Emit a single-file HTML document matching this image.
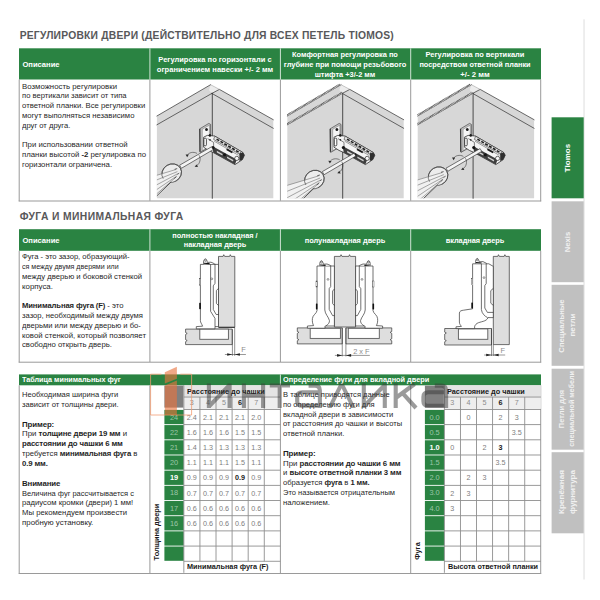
<!DOCTYPE html>
<html><head><meta charset="utf-8"><title>Tiomos</title>
<style>
html,body{margin:0;padding:0;background:#fff;}
body{width:600px;height:600px;position:relative;overflow:hidden;font-family:"Liberation Sans",sans-serif;}
.t{position:absolute;white-space:nowrap;margin:0;padding:0;}
.r{position:absolute;}
b{font-weight:700;letter-spacing:-0.13px;}
svg{position:absolute;left:0;top:0;}
</style></head><body>
<svg width="600" height="600" viewBox="0 0 600 600">
<rect x="583.30" y="19.30" width="1.50" height="560.20" fill="#e9e9e9"/>
<rect x="551.60" y="117.30" width="32.10" height="81.00" fill="#2a8342"/>
<rect x="551.60" y="201.30" width="32.10" height="80.90" fill="#c0c0c0"/>
<rect x="551.60" y="284.80" width="32.10" height="81.00" fill="#c0c0c0"/>
<rect x="551.60" y="368.70" width="32.10" height="81.00" fill="#c0c0c0"/>
<rect x="551.60" y="452.20" width="32.10" height="81.10" fill="#c0c0c0"/>
<rect x="19.00" y="48.30" width="522.00" height="31.20" fill="#2a8342"/>
<rect x="18.70" y="79.50" width="1.00" height="121.80" fill="#9a9a9a"/>
<rect x="540.20" y="79.50" width="1.00" height="121.80" fill="#9a9a9a"/>
<rect x="18.70" y="200.50" width="522.50" height="1.00" fill="#9a9a9a"/>
<rect x="149.40" y="79.50" width="1.00" height="121.30" fill="#9a9a9a"/>
<rect x="149.40" y="48.30" width="1.00" height="31.20" fill="#cfe3d4"/>
<rect x="279.90" y="79.50" width="1.00" height="121.30" fill="#9a9a9a"/>
<rect x="279.90" y="48.30" width="1.00" height="31.20" fill="#cfe3d4"/>
<rect x="410.20" y="79.50" width="1.00" height="121.30" fill="#9a9a9a"/>
<rect x="410.20" y="48.30" width="1.00" height="31.20" fill="#cfe3d4"/>
<rect x="19.00" y="229.20" width="522.00" height="21.60" fill="#2a8342"/>
<rect x="18.70" y="250.80" width="1.00" height="111.70" fill="#9a9a9a"/>
<rect x="540.20" y="250.80" width="1.00" height="111.70" fill="#9a9a9a"/>
<rect x="18.70" y="361.70" width="522.50" height="1.00" fill="#9a9a9a"/>
<rect x="149.40" y="250.80" width="1.00" height="111.20" fill="#9a9a9a"/>
<rect x="149.40" y="229.20" width="1.00" height="21.60" fill="#cfe3d4"/>
<rect x="279.90" y="250.80" width="1.00" height="111.20" fill="#9a9a9a"/>
<rect x="279.90" y="229.20" width="1.00" height="21.60" fill="#cfe3d4"/>
<rect x="410.20" y="250.80" width="1.00" height="111.20" fill="#9a9a9a"/>
<rect x="410.20" y="229.20" width="1.00" height="21.60" fill="#cfe3d4"/>
<rect x="19.00" y="374.40" width="522.00" height="10.90" fill="#2a8342"/>
<rect x="279.90" y="374.40" width="1.00" height="10.90" fill="#cfe3d4"/>
<rect x="18.70" y="385.30" width="1.00" height="188.50" fill="#9a9a9a"/>
<rect x="540.20" y="385.30" width="1.00" height="188.50" fill="#9a9a9a"/>
<rect x="18.70" y="573.00" width="522.50" height="1.00" fill="#9a9a9a"/>
<rect x="149.40" y="385.30" width="1.00" height="188.00" fill="#9a9a9a"/>
<rect x="279.90" y="385.30" width="1.00" height="188.00" fill="#9a9a9a"/>
<rect x="410.20" y="385.30" width="1.00" height="188.00" fill="#9a9a9a"/>
<rect x="183.80" y="385.30" width="96.60" height="11.70" fill="#e4e4e4"/>
<rect x="183.80" y="397.00" width="96.60" height="11.90" fill="#eeeeee"/>
<rect x="164.40" y="385.60" width="19.00" height="22.00" fill="#808080"/>
<rect x="164.40" y="409.90" width="19.40" height="14.28" fill="#2a8342"/>
<rect x="164.40" y="425.08" width="19.40" height="14.28" fill="#2a8342"/>
<rect x="164.40" y="440.26" width="19.40" height="14.28" fill="#2a8342"/>
<rect x="164.40" y="455.44" width="19.40" height="14.28" fill="#2a8342"/>
<rect x="164.40" y="470.62" width="19.40" height="14.28" fill="#2a8342"/>
<rect x="164.40" y="485.80" width="19.40" height="14.28" fill="#2a8342"/>
<rect x="164.40" y="500.98" width="19.40" height="14.28" fill="#2a8342"/>
<rect x="164.40" y="516.16" width="19.40" height="14.28" fill="#2a8342"/>
<rect x="164.40" y="531.34" width="19.40" height="14.28" fill="#2a8342"/>
<rect x="164.40" y="546.52" width="19.40" height="14.28" fill="#2a8342"/>
<rect x="183.80" y="396.60" width="96.60" height="0.90" fill="#8f8f8f"/>
<rect x="183.80" y="409.00" width="96.60" height="0.90" fill="#8f8f8f"/>
<rect x="183.80" y="424.18" width="96.60" height="0.90" fill="#8f8f8f"/>
<rect x="183.80" y="439.36" width="96.60" height="0.90" fill="#8f8f8f"/>
<rect x="183.80" y="454.54" width="96.60" height="0.90" fill="#8f8f8f"/>
<rect x="183.80" y="469.72" width="96.60" height="0.90" fill="#8f8f8f"/>
<rect x="183.80" y="484.90" width="96.60" height="0.90" fill="#8f8f8f"/>
<rect x="183.80" y="500.08" width="96.60" height="0.90" fill="#8f8f8f"/>
<rect x="183.80" y="515.26" width="96.60" height="0.90" fill="#8f8f8f"/>
<rect x="183.80" y="530.44" width="96.60" height="0.90" fill="#8f8f8f"/>
<rect x="183.80" y="545.62" width="96.60" height="0.90" fill="#8f8f8f"/>
<rect x="183.80" y="560.80" width="96.60" height="0.90" fill="#8f8f8f"/>
<rect x="183.40" y="385.30" width="0.90" height="187.50" fill="#8f8f8f"/>
<rect x="199.48" y="397.00" width="0.90" height="164.30" fill="#8f8f8f"/>
<rect x="215.56" y="397.00" width="0.90" height="164.30" fill="#8f8f8f"/>
<rect x="231.64" y="397.00" width="0.90" height="164.30" fill="#8f8f8f"/>
<rect x="247.72" y="397.00" width="0.90" height="164.30" fill="#8f8f8f"/>
<rect x="263.80" y="397.00" width="0.90" height="164.30" fill="#8f8f8f"/>
<rect x="444.30" y="385.30" width="96.60" height="11.70" fill="#e4e4e4"/>
<rect x="444.30" y="397.00" width="96.60" height="11.90" fill="#eeeeee"/>
<rect x="424.90" y="385.60" width="19.00" height="22.00" fill="#808080"/>
<rect x="424.90" y="409.90" width="19.40" height="14.28" fill="#2a8342"/>
<rect x="424.90" y="425.08" width="19.40" height="14.28" fill="#2a8342"/>
<rect x="424.90" y="440.26" width="19.40" height="14.28" fill="#2a8342"/>
<rect x="424.90" y="455.44" width="19.40" height="14.28" fill="#2a8342"/>
<rect x="424.90" y="470.62" width="19.40" height="14.28" fill="#2a8342"/>
<rect x="424.90" y="485.80" width="19.40" height="14.28" fill="#2a8342"/>
<rect x="424.90" y="500.98" width="19.40" height="14.28" fill="#2a8342"/>
<rect x="424.90" y="516.16" width="19.40" height="14.28" fill="#2a8342"/>
<rect x="424.90" y="531.34" width="19.40" height="14.28" fill="#2a8342"/>
<rect x="424.90" y="546.52" width="19.40" height="14.28" fill="#2a8342"/>
<rect x="444.30" y="396.60" width="96.60" height="0.90" fill="#8f8f8f"/>
<rect x="444.30" y="409.00" width="96.60" height="0.90" fill="#8f8f8f"/>
<rect x="444.30" y="424.18" width="96.60" height="0.90" fill="#8f8f8f"/>
<rect x="444.30" y="439.36" width="96.60" height="0.90" fill="#8f8f8f"/>
<rect x="444.30" y="454.54" width="96.60" height="0.90" fill="#8f8f8f"/>
<rect x="444.30" y="469.72" width="96.60" height="0.90" fill="#8f8f8f"/>
<rect x="444.30" y="484.90" width="96.60" height="0.90" fill="#8f8f8f"/>
<rect x="444.30" y="500.08" width="96.60" height="0.90" fill="#8f8f8f"/>
<rect x="444.30" y="515.26" width="96.60" height="0.90" fill="#8f8f8f"/>
<rect x="444.30" y="530.44" width="96.60" height="0.90" fill="#8f8f8f"/>
<rect x="444.30" y="545.62" width="96.60" height="0.90" fill="#8f8f8f"/>
<rect x="444.30" y="560.80" width="96.60" height="0.90" fill="#8f8f8f"/>
<rect x="443.90" y="385.30" width="0.90" height="187.50" fill="#8f8f8f"/>
<rect x="459.98" y="397.00" width="0.90" height="164.30" fill="#8f8f8f"/>
<rect x="476.06" y="397.00" width="0.90" height="164.30" fill="#8f8f8f"/>
<rect x="492.14" y="397.00" width="0.90" height="164.30" fill="#8f8f8f"/>
<rect x="508.22" y="397.00" width="0.90" height="164.30" fill="#8f8f8f"/>
<rect x="524.30" y="397.00" width="0.90" height="164.30" fill="#8f8f8f"/>
</svg>
<div class="t" style="left:568.00px;top:157.80px;font-size:7.8px;line-height:10px;color:#fff;font-weight:700;transform:translate(-50%,-50%) rotate(-90deg) scaleX(1.0256);">Tiomos</div>
<div class="t" style="left:568.00px;top:241.60px;font-size:7.8px;line-height:10px;color:#f1f1f1;font-weight:700;transform:translate(-50%,-50%) rotate(-90deg) scaleX(0.9754);">Nexis</div>
<div class="t" style="left:561.90px;top:325.70px;font-size:7.8px;line-height:10px;color:#f1f1f1;font-weight:700;transform:translate(-50%,-50%) rotate(-90deg) scaleX(0.9859);">Специальные</div>
<div class="t" style="left:572.60px;top:324.50px;font-size:7.8px;line-height:10px;color:#f1f1f1;font-weight:700;transform:translate(-50%,-50%) rotate(-90deg) scaleX(1.0265);">петли</div>
<div class="t" style="left:561.90px;top:409.20px;font-size:7.8px;line-height:10px;color:#f1f1f1;font-weight:700;transform:translate(-50%,-50%) rotate(-90deg) scaleX(0.9594);">Петли для</div>
<div class="t" style="left:572.30px;top:408.80px;font-size:7.8px;line-height:10px;color:#f1f1f1;font-weight:700;transform:translate(-50%,-50%) rotate(-90deg) scaleX(0.9188);">специальной мебели</div>
<div class="t" style="left:561.90px;top:492.00px;font-size:7.8px;line-height:10px;color:#f1f1f1;font-weight:700;transform:translate(-50%,-50%) rotate(-90deg) scaleX(1.0468);">Крепёжная</div>
<div class="t" style="left:572.60px;top:492.00px;font-size:7.8px;line-height:10px;color:#f1f1f1;font-weight:700;transform:translate(-50%,-50%) rotate(-90deg) scaleX(1.0334);">фурнитура</div>
<div class="t" style="top:30.93px;font-size:10.3px;line-height:10px;color:#58585a;font-weight:700;letter-spacing:0.22px;left:19.70px;">РЕГУЛИРОВКИ ДВЕРИ (ДЕЙСТВИТЕЛЬНО ДЛЯ ВСЕХ ПЕТЕЛЬ TIOMOS)</div>
<div class="t" style="top:211.93px;font-size:10.3px;line-height:10px;color:#58585a;font-weight:700;letter-spacing:0.4px;left:19.70px;">ФУГА И МИНИМАЛЬНАЯ ФУГА</div>
<div class="t" style="top:59.57px;font-size:7.6px;line-height:10px;color:#fff;font-weight:700;left:22.40px;">Описание</div>
<div class="t" style="top:55.27px;font-size:7.6px;line-height:10px;color:#fff;font-weight:700;left:215.20px;transform:translateX(-50%) scaleX(0.9862);">Регулировка по горизонтали с</div>
<div class="t" style="top:64.97px;font-size:7.6px;line-height:10px;color:#fff;font-weight:700;left:215.20px;transform:translateX(-50%) scaleX(0.9964);">ограничением навески +/- 2 мм</div>
<div class="t" style="top:50.27px;font-size:7.6px;line-height:10px;color:#fff;font-weight:700;left:345.40px;transform:translateX(-50%) scaleX(0.9757);">Комфортная регулировка по</div>
<div class="t" style="top:59.97px;font-size:7.6px;line-height:10px;color:#fff;font-weight:700;left:345.40px;transform:translateX(-50%) scaleX(0.987);">глубине при помощи резьбового</div>
<div class="t" style="top:69.67px;font-size:7.6px;line-height:10px;color:#fff;font-weight:700;left:345.40px;transform:translateX(-50%) scaleX(0.9745);">штифта +3/-2 мм</div>
<div class="t" style="top:50.27px;font-size:7.6px;line-height:10px;color:#fff;font-weight:700;left:475.30px;transform:translateX(-50%) scaleX(0.9838);">Регулировка по вертикали</div>
<div class="t" style="top:59.97px;font-size:7.6px;line-height:10px;color:#fff;font-weight:700;left:475.30px;transform:translateX(-50%) scaleX(0.9671);">посредством ответной планки</div>
<div class="t" style="top:69.67px;font-size:7.6px;line-height:10px;color:#fff;font-weight:700;left:475.30px;transform:translateX(-50%) scaleX(1.0186);">+/- 2 мм</div>
<div class="t" style="top:81.50px;font-size:7.8px;line-height:10px;color:#1f1f1f;left:22.30px;transform:scaleX(1.0008);transform-origin:0 0;">Возможность регулировки</div>
<div class="t" style="top:91.32px;font-size:7.8px;line-height:10px;color:#1f1f1f;left:22.30px;transform:scaleX(0.9777);transform-origin:0 0;">по вертикали зависит от типа</div>
<div class="t" style="top:101.14px;font-size:7.8px;line-height:10px;color:#1f1f1f;left:22.30px;transform:scaleX(0.9907);transform-origin:0 0;">ответной планки. Все регулировки</div>
<div class="t" style="top:110.96px;font-size:7.8px;line-height:10px;color:#1f1f1f;left:22.30px;transform:scaleX(0.9848);transform-origin:0 0;">могут выполняться независимо</div>
<div class="t" style="top:120.78px;font-size:7.8px;line-height:10px;color:#1f1f1f;left:22.30px;transform:scaleX(0.9761);transform-origin:0 0;">друг от друга.</div>
<div class="t" style="top:140.42px;font-size:7.8px;line-height:10px;color:#1f1f1f;left:22.30px;transform:scaleX(1.0004);transform-origin:0 0;">При использовании ответной</div>
<div class="t" style="top:150.24px;font-size:7.8px;line-height:10px;color:#1f1f1f;left:22.30px;transform:scaleX(0.9995);transform-origin:0 0;">планки высотой <b>-2</b> регулировка по</div>
<div class="t" style="top:160.06px;font-size:7.8px;line-height:10px;color:#1f1f1f;left:22.30px;transform:scaleX(0.9961);transform-origin:0 0;">горизонтали ограничена.</div>
<div class="t" style="top:235.67px;font-size:7.6px;line-height:10px;color:#fff;font-weight:700;left:22.40px;">Описание</div>
<div class="t" style="top:230.57px;font-size:7.6px;line-height:10px;color:#fff;font-weight:700;left:215.20px;transform:translateX(-50%) scaleX(0.9667);">полностью накладная /</div>
<div class="t" style="top:240.37px;font-size:7.6px;line-height:10px;color:#fff;font-weight:700;left:215.20px;transform:translateX(-50%) scaleX(0.9654);">накладная дверь</div>
<div class="t" style="top:235.57px;font-size:7.6px;line-height:10px;color:#fff;font-weight:700;left:345.40px;transform:translateX(-50%) scaleX(0.9719);">полунакладная дверь</div>
<div class="t" style="top:235.57px;font-size:7.6px;line-height:10px;color:#fff;font-weight:700;left:475.30px;transform:translateX(-50%) scaleX(0.9654);">вкладная дверь</div>
<div class="t" style="top:252.10px;font-size:7.8px;line-height:10px;color:#1f1f1f;left:22.30px;transform:scaleX(0.9753);transform-origin:0 0;">Фуга - это зазор, образующий-</div>
<div class="t" style="top:261.91px;font-size:7.8px;line-height:10px;color:#1f1f1f;left:22.30px;transform:scaleX(0.9092);transform-origin:0 0;">ся между двумя дверями или</div>
<div class="t" style="top:271.72px;font-size:7.8px;line-height:10px;color:#1f1f1f;left:22.30px;transform:scaleX(0.9919);transform-origin:0 0;">между дверью и боковой стенкой</div>
<div class="t" style="top:281.53px;font-size:7.8px;line-height:10px;color:#1f1f1f;left:22.30px;transform:scaleX(1.0095);transform-origin:0 0;">корпуса.</div>
<div class="t" style="top:301.15px;font-size:7.8px;line-height:10px;color:#1f1f1f;left:22.30px;transform:scaleX(0.9851);transform-origin:0 0;"><b>Минимальная фуга (F)</b> - это</div>
<div class="t" style="top:310.96px;font-size:7.8px;line-height:10px;color:#1f1f1f;left:22.30px;transform:scaleX(0.9802);transform-origin:0 0;">зазор, необходимый между двумя</div>
<div class="t" style="top:320.77px;font-size:7.8px;line-height:10px;color:#1f1f1f;left:22.30px;transform:scaleX(0.9797);transform-origin:0 0;">дверьми или между дверью и бо-</div>
<div class="t" style="top:330.58px;font-size:7.8px;line-height:10px;color:#1f1f1f;left:22.30px;transform:scaleX(1.0005);transform-origin:0 0;">ковой стенкой, который позволяет</div>
<div class="t" style="top:340.39px;font-size:7.8px;line-height:10px;color:#1f1f1f;left:22.30px;transform:scaleX(0.9915);transform-origin:0 0;">свободно открыть дверь.</div>
<div class="t" style="top:375.46px;font-size:7.9px;line-height:10px;color:#fff;font-weight:700;left:22.40px;transform:scaleX(0.9153);transform-origin:0 0;">Таблица минимальных фуг</div>
<div class="t" style="top:375.46px;font-size:7.9px;line-height:10px;color:#fff;font-weight:700;left:283.20px;transform:scaleX(0.9313);transform-origin:0 0;">Определение фуги для вкладной двери</div>
<div class="t" style="top:390.00px;font-size:7.8px;line-height:10px;color:#1f1f1f;left:22.30px;transform:scaleX(0.9716);transform-origin:0 0;">Необходимая ширина фуги</div>
<div class="t" style="top:399.86px;font-size:7.8px;line-height:10px;color:#1f1f1f;left:22.30px;transform:scaleX(0.9752);transform-origin:0 0;">зависит от толщины двери.</div>
<div class="t" style="top:419.58px;font-size:7.8px;line-height:10px;color:#1f1f1f;left:22.30px;transform:scaleX(1.012);transform-origin:0 0;"><b>Пример:</b></div>
<div class="t" style="top:429.44px;font-size:7.8px;line-height:10px;color:#1f1f1f;left:22.30px;transform:scaleX(1.0063);transform-origin:0 0;">При <b>толщине двери 19 мм</b> и</div>
<div class="t" style="top:439.30px;font-size:7.8px;line-height:10px;color:#1f1f1f;left:22.30px;transform:scaleX(1.0061);transform-origin:0 0;"><b>расстоянии до чашки 6 мм</b></div>
<div class="t" style="top:449.16px;font-size:7.8px;line-height:10px;color:#1f1f1f;left:22.30px;transform:scaleX(0.9892);transform-origin:0 0;">требуется <b>минимальная фуга</b> в</div>
<div class="t" style="top:459.02px;font-size:7.8px;line-height:10px;color:#1f1f1f;left:22.30px;transform:scaleX(1.0001);transform-origin:0 0;"><b>0.9 мм.</b></div>
<div class="t" style="top:478.74px;font-size:7.8px;line-height:10px;color:#1f1f1f;left:22.30px;transform:scaleX(1.0069);transform-origin:0 0;"><b>Внимание</b></div>
<div class="t" style="top:488.60px;font-size:7.8px;line-height:10px;color:#1f1f1f;left:22.30px;transform:scaleX(0.9583);transform-origin:0 0;">Величина фуг рассчитывается с</div>
<div class="t" style="top:498.46px;font-size:7.8px;line-height:10px;color:#1f1f1f;left:22.30px;transform:scaleX(0.9841);transform-origin:0 0;">радиусом кромки (двери) 1 мм!</div>
<div class="t" style="top:508.32px;font-size:7.8px;line-height:10px;color:#1f1f1f;left:22.30px;transform:scaleX(0.9911);transform-origin:0 0;">Мы рекомендуем произвести</div>
<div class="t" style="top:518.18px;font-size:7.8px;line-height:10px;color:#1f1f1f;left:22.30px;transform:scaleX(1.0087);transform-origin:0 0;">пробную установку.</div>
<div class="t" style="top:390.00px;font-size:7.8px;line-height:10px;color:#1f1f1f;left:283.20px;transform:scaleX(0.9673);transform-origin:0 0;">В таблице приводятся данные</div>
<div class="t" style="top:399.80px;font-size:7.8px;line-height:10px;color:#1f1f1f;left:283.20px;transform:scaleX(0.9664);transform-origin:0 0;">по определению фуги для</div>
<div class="t" style="top:409.60px;font-size:7.8px;line-height:10px;color:#1f1f1f;left:283.20px;transform:scaleX(0.9802);transform-origin:0 0;">вкладной двери в зависимости</div>
<div class="t" style="top:419.40px;font-size:7.8px;line-height:10px;color:#1f1f1f;left:283.20px;transform:scaleX(0.9715);transform-origin:0 0;">от расстояния до чашки и высоты</div>
<div class="t" style="top:429.20px;font-size:7.8px;line-height:10px;color:#1f1f1f;left:283.20px;transform:scaleX(0.9911);transform-origin:0 0;">ответной планки.</div>
<div class="t" style="top:448.80px;font-size:7.8px;line-height:10px;color:#1f1f1f;left:283.20px;transform:scaleX(1.0215);transform-origin:0 0;"><b>Пример:</b></div>
<div class="t" style="top:458.60px;font-size:7.8px;line-height:10px;color:#1f1f1f;left:283.20px;transform:scaleX(1.0072);transform-origin:0 0;">При <b>расстоянии до чашки 6 мм</b></div>
<div class="t" style="top:468.40px;font-size:7.8px;line-height:10px;color:#1f1f1f;left:283.20px;transform:scaleX(0.9952);transform-origin:0 0;">и <b>высоте ответной планки 3 мм</b></div>
<div class="t" style="top:478.20px;font-size:7.8px;line-height:10px;color:#1f1f1f;left:283.20px;transform:scaleX(0.9761);transform-origin:0 0;">образуется <b>фуга</b> в <b>1 мм.</b></div>
<div class="t" style="top:488.00px;font-size:7.8px;line-height:10px;color:#1f1f1f;left:283.20px;transform:scaleX(0.965);transform-origin:0 0;">Это называется отрицательным</div>
<div class="t" style="top:497.80px;font-size:7.8px;line-height:10px;color:#1f1f1f;left:283.20px;transform:scaleX(0.9851);transform-origin:0 0;">наложением.</div>
<div class="t" style="top:386.87px;font-size:7.6px;line-height:10px;color:#1a1a1a;font-weight:700;left:186.70px;transform:scaleX(0.9627);transform-origin:0 0;">Расстояние до чашки</div>
<div class="t" style="top:398.31px;font-size:7.2px;line-height:10px;color:#8c8c8c;left:191.84px;transform:translateX(-50%);">3</div>
<div class="t" style="top:398.31px;font-size:7.2px;line-height:10px;color:#8c8c8c;left:207.92px;transform:translateX(-50%);">4</div>
<div class="t" style="top:398.31px;font-size:7.2px;line-height:10px;color:#8c8c8c;left:224.00px;transform:translateX(-50%);">5</div>
<div class="t" style="top:398.31px;font-size:7.2px;line-height:10px;color:#1a1a1a;font-weight:700;left:240.08px;transform:translateX(-50%);">6</div>
<div class="t" style="top:398.31px;font-size:7.2px;line-height:10px;color:#8c8c8c;left:256.16px;transform:translateX(-50%);">7</div>
<div class="t" style="top:412.54px;font-size:7.4px;line-height:10px;color:#9cc6a8;left:174.10px;transform:translateX(-50%);">24</div>
<div class="t" style="top:412.61px;font-size:7.2px;line-height:10px;color:#7d7d7d;left:191.84px;transform:translateX(-50%);">2.4</div>
<div class="t" style="top:412.61px;font-size:7.2px;line-height:10px;color:#7d7d7d;left:207.92px;transform:translateX(-50%);">2.1</div>
<div class="t" style="top:412.61px;font-size:7.2px;line-height:10px;color:#7d7d7d;left:224.00px;transform:translateX(-50%);">2.1</div>
<div class="t" style="top:412.61px;font-size:7.2px;line-height:10px;color:#7d7d7d;left:240.08px;transform:translateX(-50%);">2.1</div>
<div class="t" style="top:412.61px;font-size:7.2px;line-height:10px;color:#7d7d7d;left:256.16px;transform:translateX(-50%);">2.0</div>
<div class="t" style="top:427.72px;font-size:7.4px;line-height:10px;color:#9cc6a8;left:174.10px;transform:translateX(-50%);">22</div>
<div class="t" style="top:427.79px;font-size:7.2px;line-height:10px;color:#7d7d7d;left:191.84px;transform:translateX(-50%);">1.6</div>
<div class="t" style="top:427.79px;font-size:7.2px;line-height:10px;color:#7d7d7d;left:207.92px;transform:translateX(-50%);">1.6</div>
<div class="t" style="top:427.79px;font-size:7.2px;line-height:10px;color:#7d7d7d;left:224.00px;transform:translateX(-50%);">1.6</div>
<div class="t" style="top:427.79px;font-size:7.2px;line-height:10px;color:#7d7d7d;left:240.08px;transform:translateX(-50%);">1.5</div>
<div class="t" style="top:427.79px;font-size:7.2px;line-height:10px;color:#7d7d7d;left:256.16px;transform:translateX(-50%);">1.5</div>
<div class="t" style="top:442.90px;font-size:7.4px;line-height:10px;color:#9cc6a8;left:174.10px;transform:translateX(-50%);">21</div>
<div class="t" style="top:442.97px;font-size:7.2px;line-height:10px;color:#7d7d7d;left:191.84px;transform:translateX(-50%);">1.4</div>
<div class="t" style="top:442.97px;font-size:7.2px;line-height:10px;color:#7d7d7d;left:207.92px;transform:translateX(-50%);">1.3</div>
<div class="t" style="top:442.97px;font-size:7.2px;line-height:10px;color:#7d7d7d;left:224.00px;transform:translateX(-50%);">1.3</div>
<div class="t" style="top:442.97px;font-size:7.2px;line-height:10px;color:#7d7d7d;left:240.08px;transform:translateX(-50%);">1.3</div>
<div class="t" style="top:442.97px;font-size:7.2px;line-height:10px;color:#7d7d7d;left:256.16px;transform:translateX(-50%);">1.3</div>
<div class="t" style="top:458.08px;font-size:7.4px;line-height:10px;color:#9cc6a8;left:174.10px;transform:translateX(-50%);">20</div>
<div class="t" style="top:458.15px;font-size:7.2px;line-height:10px;color:#7d7d7d;left:191.84px;transform:translateX(-50%);">1.1</div>
<div class="t" style="top:458.15px;font-size:7.2px;line-height:10px;color:#7d7d7d;left:207.92px;transform:translateX(-50%);">1.1</div>
<div class="t" style="top:458.15px;font-size:7.2px;line-height:10px;color:#7d7d7d;left:224.00px;transform:translateX(-50%);">1.1</div>
<div class="t" style="top:458.15px;font-size:7.2px;line-height:10px;color:#7d7d7d;left:240.08px;transform:translateX(-50%);">1.5</div>
<div class="t" style="top:458.15px;font-size:7.2px;line-height:10px;color:#7d7d7d;left:256.16px;transform:translateX(-50%);">1.1</div>
<div class="t" style="top:473.26px;font-size:7.4px;line-height:10px;color:#fff;font-weight:700;left:174.10px;transform:translateX(-50%);">19</div>
<div class="t" style="top:473.33px;font-size:7.2px;line-height:10px;color:#7d7d7d;left:191.84px;transform:translateX(-50%);">0.9</div>
<div class="t" style="top:473.33px;font-size:7.2px;line-height:10px;color:#7d7d7d;left:207.92px;transform:translateX(-50%);">0.9</div>
<div class="t" style="top:473.33px;font-size:7.2px;line-height:10px;color:#7d7d7d;left:224.00px;transform:translateX(-50%);">0.9</div>
<div class="t" style="top:473.33px;font-size:7.2px;line-height:10px;color:#1a1a1a;font-weight:700;left:240.08px;transform:translateX(-50%);">0.9</div>
<div class="t" style="top:473.33px;font-size:7.2px;line-height:10px;color:#7d7d7d;left:256.16px;transform:translateX(-50%);">0.9</div>
<div class="t" style="top:488.44px;font-size:7.4px;line-height:10px;color:#9cc6a8;left:174.10px;transform:translateX(-50%);">18</div>
<div class="t" style="top:488.51px;font-size:7.2px;line-height:10px;color:#7d7d7d;left:191.84px;transform:translateX(-50%);">0.7</div>
<div class="t" style="top:488.51px;font-size:7.2px;line-height:10px;color:#7d7d7d;left:207.92px;transform:translateX(-50%);">0.7</div>
<div class="t" style="top:488.51px;font-size:7.2px;line-height:10px;color:#7d7d7d;left:224.00px;transform:translateX(-50%);">0.7</div>
<div class="t" style="top:488.51px;font-size:7.2px;line-height:10px;color:#7d7d7d;left:240.08px;transform:translateX(-50%);">0.7</div>
<div class="t" style="top:488.51px;font-size:7.2px;line-height:10px;color:#7d7d7d;left:256.16px;transform:translateX(-50%);">0.7</div>
<div class="t" style="top:503.62px;font-size:7.4px;line-height:10px;color:#9cc6a8;left:174.10px;transform:translateX(-50%);">17</div>
<div class="t" style="top:503.69px;font-size:7.2px;line-height:10px;color:#7d7d7d;left:191.84px;transform:translateX(-50%);">0.6</div>
<div class="t" style="top:503.69px;font-size:7.2px;line-height:10px;color:#7d7d7d;left:207.92px;transform:translateX(-50%);">0.6</div>
<div class="t" style="top:503.69px;font-size:7.2px;line-height:10px;color:#7d7d7d;left:224.00px;transform:translateX(-50%);">0.6</div>
<div class="t" style="top:503.69px;font-size:7.2px;line-height:10px;color:#7d7d7d;left:240.08px;transform:translateX(-50%);">0.6</div>
<div class="t" style="top:503.69px;font-size:7.2px;line-height:10px;color:#7d7d7d;left:256.16px;transform:translateX(-50%);">0.6</div>
<div class="t" style="top:518.80px;font-size:7.4px;line-height:10px;color:#9cc6a8;left:174.10px;transform:translateX(-50%);">16</div>
<div class="t" style="top:518.87px;font-size:7.2px;line-height:10px;color:#7d7d7d;left:191.84px;transform:translateX(-50%);">0.6</div>
<div class="t" style="top:518.87px;font-size:7.2px;line-height:10px;color:#7d7d7d;left:207.92px;transform:translateX(-50%);">0.6</div>
<div class="t" style="top:518.87px;font-size:7.2px;line-height:10px;color:#7d7d7d;left:224.00px;transform:translateX(-50%);">0.6</div>
<div class="t" style="top:518.87px;font-size:7.2px;line-height:10px;color:#7d7d7d;left:240.08px;transform:translateX(-50%);">0.6</div>
<div class="t" style="top:518.87px;font-size:7.2px;line-height:10px;color:#7d7d7d;left:256.16px;transform:translateX(-50%);">0.6</div>
<div class="t" style="top:561.90px;font-size:7.8px;line-height:10px;color:#1a1a1a;font-weight:700;left:187.00px;transform:scaleX(0.9361);transform-origin:0 0;">Минимальная фуга (F)</div>
<div class="t" style="left:157.30px;top:532.10px;font-size:7.8px;line-height:10px;color:#1a1a1a;font-weight:700;transform:translate(-50%,-50%) rotate(-90deg) scaleX(0.9479);">Толщина двери</div>
<div class="t" style="top:386.87px;font-size:7.6px;line-height:10px;color:#1a1a1a;font-weight:700;left:447.20px;transform:scaleX(0.9627);transform-origin:0 0;">Расстояние до чашки</div>
<div class="t" style="top:398.31px;font-size:7.2px;line-height:10px;color:#8c8c8c;left:452.34px;transform:translateX(-50%);">3</div>
<div class="t" style="top:398.31px;font-size:7.2px;line-height:10px;color:#8c8c8c;left:468.42px;transform:translateX(-50%);">4</div>
<div class="t" style="top:398.31px;font-size:7.2px;line-height:10px;color:#8c8c8c;left:484.50px;transform:translateX(-50%);">5</div>
<div class="t" style="top:398.31px;font-size:7.2px;line-height:10px;color:#1a1a1a;font-weight:700;left:500.58px;transform:translateX(-50%);">6</div>
<div class="t" style="top:398.31px;font-size:7.2px;line-height:10px;color:#8c8c8c;left:516.66px;transform:translateX(-50%);">7</div>
<div class="t" style="top:412.54px;font-size:7.4px;line-height:10px;color:#9cc6a8;left:434.60px;transform:translateX(-50%);">0.0</div>
<div class="t" style="top:412.61px;font-size:7.2px;line-height:10px;color:#7d7d7d;left:468.42px;transform:translateX(-50%);">0</div>
<div class="t" style="top:412.61px;font-size:7.2px;line-height:10px;color:#7d7d7d;left:500.58px;transform:translateX(-50%);">2</div>
<div class="t" style="top:412.61px;font-size:7.2px;line-height:10px;color:#7d7d7d;left:516.66px;transform:translateX(-50%);">3</div>
<div class="t" style="top:427.72px;font-size:7.4px;line-height:10px;color:#9cc6a8;left:434.60px;transform:translateX(-50%);">0.5</div>
<div class="t" style="top:427.79px;font-size:7.2px;line-height:10px;color:#7d7d7d;left:516.66px;transform:translateX(-50%);">3.5</div>
<div class="t" style="top:442.90px;font-size:7.4px;line-height:10px;color:#fff;font-weight:700;left:434.60px;transform:translateX(-50%);">1.0</div>
<div class="t" style="top:442.97px;font-size:7.2px;line-height:10px;color:#7d7d7d;left:452.34px;transform:translateX(-50%);">0</div>
<div class="t" style="top:442.97px;font-size:7.2px;line-height:10px;color:#7d7d7d;left:484.50px;transform:translateX(-50%);">2</div>
<div class="t" style="top:442.97px;font-size:7.2px;line-height:10px;color:#1a1a1a;font-weight:700;left:500.58px;transform:translateX(-50%);">3</div>
<div class="t" style="top:458.08px;font-size:7.4px;line-height:10px;color:#9cc6a8;left:434.60px;transform:translateX(-50%);">1.5</div>
<div class="t" style="top:458.15px;font-size:7.2px;line-height:10px;color:#7d7d7d;left:500.58px;transform:translateX(-50%);">3.5</div>
<div class="t" style="top:473.26px;font-size:7.4px;line-height:10px;color:#9cc6a8;left:434.60px;transform:translateX(-50%);">2.0</div>
<div class="t" style="top:473.33px;font-size:7.2px;line-height:10px;color:#7d7d7d;left:468.42px;transform:translateX(-50%);">2</div>
<div class="t" style="top:473.33px;font-size:7.2px;line-height:10px;color:#7d7d7d;left:484.50px;transform:translateX(-50%);">3</div>
<div class="t" style="top:488.44px;font-size:7.4px;line-height:10px;color:#9cc6a8;left:434.60px;transform:translateX(-50%);">3.0</div>
<div class="t" style="top:488.51px;font-size:7.2px;line-height:10px;color:#7d7d7d;left:452.34px;transform:translateX(-50%);">2</div>
<div class="t" style="top:488.51px;font-size:7.2px;line-height:10px;color:#7d7d7d;left:468.42px;transform:translateX(-50%);">3</div>
<div class="t" style="top:503.62px;font-size:7.4px;line-height:10px;color:#9cc6a8;left:434.60px;transform:translateX(-50%);">4.0</div>
<div class="t" style="top:503.69px;font-size:7.2px;line-height:10px;color:#7d7d7d;left:452.34px;transform:translateX(-50%);">3</div>
<div class="t" style="top:561.90px;font-size:7.8px;line-height:10px;color:#1a1a1a;font-weight:700;left:447.50px;transform:scaleX(0.9328);transform-origin:0 0;">Высота ответной планки</div>
<div class="t" style="left:417.60px;top:551.30px;font-size:7.8px;line-height:10px;color:#1a1a1a;font-weight:700;transform:translate(-50%,-50%) rotate(-90deg) scaleX(0.942);">Фуга</div>
<svg width="600" height="600" viewBox="0 0 600 600">
<defs>
<g id="scn"><polygon points="156.9,116 210.6,84.7 219.4,89.4 273.3,119.7 273.3,198.3 156.9,198.3" fill="#d7d7d7"/>
<polygon points="210.6,84.7 219.4,89.4 211.9,93.4 209,90" fill="#ececec"/>
<g fill="none" stroke="#2e2e2e" stroke-width="0.7" stroke-linecap="round"><path d="M156.9,116 L210.6,84.7"/><path d="M156.9,124.8 L211.9,93.4"/><path d="M212.3,93.4 L212.3,198.3" stroke-width="0.9" stroke="#3c3c3c"/><path d="M211.9,93.4 L219.4,89.4 L273.3,119.7"/><path d="M211.9,93.4 L273.3,128.3"/></g>
<path d="M210.6,84.7 L219.4,89.4" stroke="#9a9a9a" stroke-width="0.5" fill="none"/>
<polygon points="199.6,128.9 208.8,123.4 210.6,124.4 210.6,146.4 200.2,152.4" fill="#c4c4c4" stroke="#333" stroke-width="0.6"/>
<polygon points="202.3,129.3 209.4,125.2 209.4,146.4 202.3,150.6" fill="#f6f6f6" stroke="#555" stroke-width="0.4"/>
<path d="M199.9,128.9 L199.9,151.8" stroke="#222" stroke-width="0.9"/>
<ellipse cx="206.5" cy="129.5" rx="1.4" ry="1.6" fill="#1c1c1c"/>
<polygon points="203.6,137.2 207.3,135.4 214.6,136 242.8,152.4 244.4,155.2 242.4,159.6 235,164.6 213.4,152.6 208.6,150.4 203.6,147.2" fill="#f4f4f4" stroke="#262626" stroke-width="0.75" stroke-linejoin="round"/>
<polygon points="214.8,136.2 242.6,152.4 241.6,155.4 213.6,139.4" fill="#e4e4e4" stroke="#2c2c2c" stroke-width="0.55"/>
<path d="M216.6,139.2 L240.8,153.3" stroke="#1e1e1e" stroke-width="1.5" stroke-dasharray="3 1.5" fill="none"/>
<path d="M214.2,141.2 L238.6,155.4" stroke="#444" stroke-width="0.5" fill="none"/>
<polygon points="212.6,146.2 236.8,159.6 235,164.4 213.2,152.4" fill="#3e3e3e"/>
<polygon points="216.8,150.8 222.6,154 222.4,155.4 216.8,152.4" fill="#d0d0d0"/><polygon points="227,156.4 233.4,160 233,161.4 227,158" fill="#d0d0d0"/>
<path d="M226.6,149.2 L232.4,152.6" stroke="#1a1a1a" stroke-width="1.7"/>
<path d="M207.6,138.6 L213.6,142.4 L213.6,149.8" stroke="#333" stroke-width="0.6" fill="none"/>
<rect x="203.9" y="138.2" width="2.5" height="7.6" rx="1" fill="#fff" stroke="#1e1e1e" stroke-width="0.75"/>
<ellipse cx="209.9" cy="135.4" rx="1.2" ry="1.4" fill="#1c1c1c"/>
<ellipse cx="210" cy="139.8" rx="0.8" ry="0.9" fill="#222"/>
<polygon points="239.4,153.4 243,152.6 244.5,155.2 242.4,159.8 239.4,161" fill="#2e2e2e"/>
<circle cx="236.8" cy="158.4" r="2.1" fill="#f8f8f8" stroke="#1e1e1e" stroke-width="0.65"/>
<circle cx="213" cy="147.6" r="1.6" fill="#161616"/>
<circle cx="224.6" cy="154.8" r="1.5" fill="#161616"/></g>
<g id="scnh"><polygon points="156.9,116 210.6,84.7 219.4,89.4 273.3,119.7 273.3,198.3 156.9,198.3" fill="#d7d7d7"/>
<polygon points="210.6,84.7 219.4,89.4 211.9,93.4 209,90" fill="#ececec"/>
<g fill="none" stroke="#2e2e2e" stroke-width="0.7" stroke-linecap="round"><path d="M156.9,116 L210.6,84.7"/><path d="M156.9,124.8 L211.9,93.4"/><path d="M212.3,93.4 L212.3,198.3" stroke-width="0.9" stroke="#3c3c3c"/><path d="M211.9,93.4 L219.4,89.4 L273.3,119.7"/><path d="M211.9,93.4 L273.3,128.3"/></g>
<path d="M210.6,84.7 L219.4,89.4" stroke="#9a9a9a" stroke-width="0.5" fill="none"/>
<path d="M156.9,115.0 L209.6,84.3" stroke="#efefef" stroke-width="1.7" fill="none"/>
<path d="M156.9,115.0 L209.6,84.3" stroke="#3a3a3a" stroke-width="1.7" stroke-dasharray="0.7 0.6" fill="none"/>
<path d="M156.9,123.8 L211.6,92.5" stroke="#efefef" stroke-width="1.7" fill="none"/>
<path d="M156.9,123.8 L211.6,92.5" stroke="#3a3a3a" stroke-width="1.7" stroke-dasharray="0.7 0.6" fill="none"/>
<polygon points="199.6,128.9 208.8,123.4 210.6,124.4 210.6,146.4 200.2,152.4" fill="#c4c4c4" stroke="#333" stroke-width="0.6"/>
<polygon points="202.3,129.3 209.4,125.2 209.4,146.4 202.3,150.6" fill="#f6f6f6" stroke="#555" stroke-width="0.4"/>
<path d="M199.9,128.9 L199.9,151.8" stroke="#222" stroke-width="0.9"/>
<ellipse cx="206.5" cy="129.5" rx="1.4" ry="1.6" fill="#1c1c1c"/>
<polygon points="203.6,137.2 207.3,135.4 214.6,136 242.8,152.4 244.4,155.2 242.4,159.6 235,164.6 213.4,152.6 208.6,150.4 203.6,147.2" fill="#f4f4f4" stroke="#262626" stroke-width="0.75" stroke-linejoin="round"/>
<polygon points="214.8,136.2 242.6,152.4 241.6,155.4 213.6,139.4" fill="#e4e4e4" stroke="#2c2c2c" stroke-width="0.55"/>
<path d="M216.6,139.2 L240.8,153.3" stroke="#1e1e1e" stroke-width="1.5" stroke-dasharray="3 1.5" fill="none"/>
<path d="M214.2,141.2 L238.6,155.4" stroke="#444" stroke-width="0.5" fill="none"/>
<polygon points="212.6,146.2 236.8,159.6 235,164.4 213.2,152.4" fill="#3e3e3e"/>
<polygon points="216.8,150.8 222.6,154 222.4,155.4 216.8,152.4" fill="#d0d0d0"/><polygon points="227,156.4 233.4,160 233,161.4 227,158" fill="#d0d0d0"/>
<path d="M226.6,149.2 L232.4,152.6" stroke="#1a1a1a" stroke-width="1.7"/>
<path d="M207.6,138.6 L213.6,142.4 L213.6,149.8" stroke="#333" stroke-width="0.6" fill="none"/>
<rect x="203.9" y="138.2" width="2.5" height="7.6" rx="1" fill="#fff" stroke="#1e1e1e" stroke-width="0.75"/>
<ellipse cx="209.9" cy="135.4" rx="1.2" ry="1.4" fill="#1c1c1c"/>
<ellipse cx="210" cy="139.8" rx="0.8" ry="0.9" fill="#222"/>
<polygon points="239.4,153.4 243,152.6 244.5,155.2 242.4,159.8 239.4,161" fill="#2e2e2e"/>
<circle cx="236.8" cy="158.4" r="2.1" fill="#f8f8f8" stroke="#1e1e1e" stroke-width="0.65"/>
<circle cx="213" cy="147.6" r="1.6" fill="#161616"/>
<circle cx="224.6" cy="154.8" r="1.5" fill="#161616"/></g>
<clipPath id="cl0"><rect x="156.9" y="84" width="116.4" height="114.3"/></clipPath>
<clipPath id="cl1"><rect x="287.3" y="84" width="116.4" height="114.3"/></clipPath>
<clipPath id="cl2"><rect x="417.70000000000005" y="84" width="116.4" height="114.3"/></clipPath>
</defs>
<use href="#scn" x="0.0" y="0"/>
<use href="#scnh" x="130.4" y="0"/>
<use href="#scnh" x="260.8" y="0"/>
<g clip-path="url(#cl0)"><g transform="translate(0,0)">
<ellipse cx="171.7" cy="173.2" rx="10" ry="9" transform="rotate(-30 171.7 173.2)" fill="#ececec" stroke="#454545" stroke-width="0.7"/>
<polygon points="176,169.5 128,183.9 128,216 136,216 171.2,181.9" fill="#f1f1f1"/>
<path d="M163.2,178.6 A10,9 -30 0 1 180.2,167.6 A10,9 -30 0 1 175.4,181.2" fill="none" stroke="#454545" stroke-width="0.7"/>
<g stroke="#6e6e6e" stroke-width="0.6" fill="none"><path d="M176,169.5 L128,183.9"/><path d="M177.4,171.6 L128,191.5"/><path d="M177.6,173.8 L128,200"/><path d="M176.8,176 L128,209"/><path d="M175,178 L131,216"/></g>
<path d="M171.2,181.9 L136,216" stroke="#2e2e2e" stroke-width="0.8" fill="none"/>
<path d="M174.6,169.3 L177.2,168.6 M177.2,174.4 L179.2,173.2 M174.4,178.4 L176.4,176.8" stroke="#444" stroke-width="0.8"/>
<polygon points="211.5,146.8 213.1,149.7 181.4,168.3 179.6,165.2" fill="#f4f4f4" stroke="#2e2e2e" stroke-width="0.65"/>
<g fill="none" stroke="#2a2a2a" stroke-width="0.55"><path d="M187.2,155.6 C188.5,152.4 193.5,151.4 197,153.4"/><path d="M199,155.2 C201.2,158.5 200,163.6 196.8,165.6"/></g>
<polygon points="185.6,154.4 188.8,154.6 187.2,157.2" fill="#2a2a2a"/>
<polygon points="194.6,166.8 196.6,164.4 198,167" fill="#2a2a2a"/>
</g></g>
<g clip-path="url(#cl1)"><g transform="translate(142.70000000000002,6.4)">
<ellipse cx="171.7" cy="173.2" rx="10" ry="9" transform="rotate(-30 171.7 173.2)" fill="#ececec" stroke="#454545" stroke-width="0.7"/>
<polygon points="176,169.5 128,183.9 128,216 136,216 171.2,181.9" fill="#f1f1f1"/>
<path d="M163.2,178.6 A10,9 -30 0 1 180.2,167.6 A10,9 -30 0 1 175.4,181.2" fill="none" stroke="#454545" stroke-width="0.7"/>
<g stroke="#6e6e6e" stroke-width="0.6" fill="none"><path d="M176,169.5 L128,183.9"/><path d="M177.4,171.6 L128,191.5"/><path d="M177.6,173.8 L128,200"/><path d="M176.8,176 L128,209"/><path d="M175,178 L131,216"/></g>
<path d="M171.2,181.9 L136,216" stroke="#2e2e2e" stroke-width="0.8" fill="none"/>
<path d="M174.6,169.3 L177.2,168.6 M177.2,174.4 L179.2,173.2 M174.4,178.4 L176.4,176.8" stroke="#444" stroke-width="0.8"/>
<polygon points="211.5,146.8 213.1,149.7 181.4,168.3 179.6,165.2" fill="#f4f4f4" stroke="#2e2e2e" stroke-width="0.65"/>
<g fill="none" stroke="#2a2a2a" stroke-width="0.55"><path d="M187.2,155.6 C188.5,152.4 193.5,151.4 197,153.4"/><path d="M199,155.2 C201.2,158.5 200,163.6 196.8,165.6"/></g>
<polygon points="185.6,154.4 188.8,154.6 187.2,157.2" fill="#2a2a2a"/>
<polygon points="194.6,166.8 196.6,164.4 198,167" fill="#2a2a2a"/>
</g></g>
<g clip-path="url(#cl2)"><g transform="translate(266.40000000000003,3.0)">
<ellipse cx="171.7" cy="173.2" rx="10" ry="9" transform="rotate(-30 171.7 173.2)" fill="#ececec" stroke="#454545" stroke-width="0.7"/>
<polygon points="176,169.5 128,183.9 128,216 136,216 171.2,181.9" fill="#f1f1f1"/>
<path d="M163.2,178.6 A10,9 -30 0 1 180.2,167.6 A10,9 -30 0 1 175.4,181.2" fill="none" stroke="#454545" stroke-width="0.7"/>
<g stroke="#6e6e6e" stroke-width="0.6" fill="none"><path d="M176,169.5 L128,183.9"/><path d="M177.4,171.6 L128,191.5"/><path d="M177.6,173.8 L128,200"/><path d="M176.8,176 L128,209"/><path d="M175,178 L131,216"/></g>
<path d="M171.2,181.9 L136,216" stroke="#2e2e2e" stroke-width="0.8" fill="none"/>
<path d="M174.6,169.3 L177.2,168.6 M177.2,174.4 L179.2,173.2 M174.4,178.4 L176.4,176.8" stroke="#444" stroke-width="0.8"/>
<polygon points="213.7,145.6 215.3,148.4 181.4,168.3 179.6,165.2" fill="#f4f4f4" stroke="#2e2e2e" stroke-width="0.65"/>
<g fill="none" stroke="#2a2a2a" stroke-width="0.55"><path d="M187.2,155.6 C188.5,152.4 193.5,151.4 197,153.4"/><path d="M199,155.2 C201.2,158.5 200,163.6 196.8,165.6"/></g>
<polygon points="185.6,154.4 188.8,154.6 187.2,157.2" fill="#2a2a2a"/>
<polygon points="194.6,166.8 196.6,164.4 198,167" fill="#2a2a2a"/>
</g></g>
</svg>
<svg width="600" height="600" viewBox="0 0 600 600">
<path d="M218.5,327.1 L218.5,256.4 L223.064,256.4 l0.7,-1.7 l0.9,1.7 L229.584,256.4 l0.7,-1.7 l0.9,1.7 L234.8,256.4 L234.8,327.1 Z" fill="#dedede" stroke="#333" stroke-width="0.7" stroke-linejoin="round" />
<path d="M232.2,329.1 L185.6,329.1 L185.6,332.51000000000005 l1.6,0.9 l-1.6,1.1 L185.6,339.64000000000004 l1.6,0.9 l-1.6,1.1 L185.6,344.6 L232.2,344.6 Z" fill="#dedede" stroke="#333" stroke-width="0.7" stroke-linejoin="round" />
<rect x="199.8" y="329.1" width="28.6" height="10.2" fill="#fff" stroke="#5a5a5a" stroke-width="0.9"/>
<path d="M200.4,264.4 L218.5,264.4 L218.5,326.6 L215,326.6 L215,328.8 L196.3,328.8 L196.3,326.6 L202.6,326.2 C201.6,323.5 200.4,322.6 200.4,320.6 Z" fill="#fff" stroke="#333" stroke-width="0.7" stroke-linejoin="round"/>
<path d="M210.6,264.4 L210.6,311.3 L215,318.4 L215,326.6" fill="none" stroke="#333" stroke-width="0.7"/>
<path d="M215,263.8 L215,283.4 L213.3,285.8 L213.3,309.5 L216.2,314.5 L218.5,314.5" fill="none" stroke="#333" stroke-width="0.7"/>
<path d="M218.5,288.3 L216.4,290.6 L216.4,303.4 L218.5,305.6" fill="none" stroke="#333" stroke-width="0.7"/>
<circle cx="211.8" cy="278.8" r="0.9" fill="#fff" stroke="#333" stroke-width="0.5"/>
<rect x="199.3" y="278.8" width="1.4" height="6.4" fill="#fff" stroke="#333" stroke-width="0.4"/>
<rect x="199.2" y="302.8" width="1.7" height="6.4" rx="0.6" fill="#111"/>
<path d="M203.6,264.2 C203,261 204.4,258.8 205.4,258.8 C206.6,258.8 207,261 207.4,262.4 L211,262.2 L214.6,263.8" fill="#fff" stroke="#333" stroke-width="0.7"/>
<path d="M204,263.2 L209.6,263.6" stroke="#111" stroke-width="1.1"/>
<circle cx="205.4" cy="260.6" r="0.8" fill="#fff" stroke="#333" stroke-width="0.5"/>
<path d="M218.5,327.5 L234.8,327.5" fill="none" stroke="#333" stroke-width="0.9" stroke-linejoin="round" />
<path d="M232.4,329.4 L232.4,355.8 M234.7,327.4 L234.7,355.8" fill="none" stroke="#333" stroke-width="0.55" stroke-linejoin="round" />
<path d="M224.9,354.5 L245.9,354.5" fill="none" stroke="#333" stroke-width="0.5" stroke-linejoin="round" />
<polygon points="232.4,354.5 227.20000000000002,353.2 227.20000000000002,355.8" fill="#222"/>
<polygon points="234.7,354.5 239.89999999999998,353.2 239.89999999999998,355.8" fill="#222"/>
<path d="M342.25,327.9 L297.3,327.9 L297.3,331.41999999999996 l1.6,0.9 l-1.6,1.1 L297.3,338.78 l1.6,0.9 l-1.6,1.1 L297.3,343.9 L342.25,343.9 Z" fill="#dedede" stroke="#333" stroke-width="0.7" stroke-linejoin="round" />
<path d="M345.9,327.9 L391.75,327.9 L391.75,331.41999999999996 l-1.6,0.9 l1.6,1.1 L391.75,338.78 l-1.6,0.9 l1.6,1.1 L391.75,343.9 L345.9,343.9 Z" fill="#dedede" stroke="#333" stroke-width="0.7" stroke-linejoin="round" />
<rect x="310.2" y="328.3" width="30.2" height="10.1" fill="#fff" stroke="#5a5a5a" stroke-width="0.9"/>
<rect x="348.3" y="328.3" width="31" height="10.1" fill="#fff" stroke="#5a5a5a" stroke-width="0.9"/>
<path d="M334.4,327 L334.4,256.4 L340.336,256.4 l0.7,-1.7 l0.9,1.7 L348.81600000000003,256.4 l0.7,-1.7 l0.9,1.7 L355.6,256.4 L355.6,327 Z" fill="#dedede" stroke="#333" stroke-width="0.7" stroke-linejoin="round" />
<g id="hh"><path d="M317,266 L334.4,266 L334.4,326 L325,326 L325,328.2 L307.4,328.2 L307.4,326 L313.6,325.6 C312.4,323.5 312.2,321 312.4,318.6 C312.6,315 316.6,313.6 317,310.6 Z" fill="#fff" stroke="#333" stroke-width="0.7" stroke-linejoin="round"/>
<path d="M324.8,266.4 L324.8,310 C325,314 328.6,317 329.4,320.4 C329.8,322.4 328.4,324.4 326,325.8" fill="none" stroke="#333" stroke-width="0.7"/>
<path d="M330.7,265.4 L330.7,286.6 L329.2,288.6 L329.2,309.4 L332.6,315.6 L334.4,315.6" fill="none" stroke="#333" stroke-width="0.7"/>
<path d="M334.4,289 L332.6,291 L332.6,303.6 L334.4,305.6" fill="none" stroke="#333" stroke-width="0.7"/>
<circle cx="328" cy="279.4" r="0.9" fill="#fff" stroke="#333" stroke-width="0.5"/>
<rect x="316" y="281" width="1.3" height="6" fill="#fff" stroke="#333" stroke-width="0.4"/>
<rect x="315.9" y="303.4" width="1.6" height="6" rx="0.6" fill="#111"/>
<path d="M319.8,265.8 C319.4,263 320.4,260.6 321.4,260.6 C322.6,260.6 323,263 323.4,264.2 L327,264 L330.4,265.4" fill="#fff" stroke="#333" stroke-width="0.7"/>
<path d="M320.2,265 L325.6,265.4" stroke="#111" stroke-width="1.1"/>
<circle cx="321.4" cy="262.4" r="0.8" fill="#fff" stroke="#333" stroke-width="0.5"/></g>
<use href="#hh" transform="translate(690,0) scale(-1,1)"/>
<path d="M342.25,343.9 L342.25,356.4 M345.9,343.9 L345.9,356.4 M342.25,327.9 L342.25,343.9 M345.9,327.9 L345.9,343.9" fill="none" stroke="#333" stroke-width="0.55" stroke-linejoin="round" />
<path d="M334.9,355.4 L369.8,355.4" fill="none" stroke="#333" stroke-width="0.5" stroke-linejoin="round" />
<polygon points="342.25,355.4 337.05,354.09999999999997 337.05,356.7" fill="#222"/>
<polygon points="345.9,355.4 351.09999999999997,354.09999999999997 351.09999999999997,356.7" fill="#222"/>
<path d="M491.5,328.5 L444.7,328.5 L444.7,332.13 l1.6,0.9 l-1.6,1.1 L444.7,339.72 l1.6,0.9 l-1.6,1.1 L444.7,345 L491.5,345 Z" fill="#dedede" stroke="#333" stroke-width="0.7" stroke-linejoin="round" />
<rect x="458.4" y="328.9" width="29.4" height="10.4" fill="#fff" stroke="#5a5a5a" stroke-width="0.9"/>
<path d="M493.3,344.6 L493.3,256.4 L497.78000000000003,256.4 l0.7,-1.7 l0.9,1.7 L504.18,256.4 l0.7,-1.7 l0.9,1.7 L509.3,256.4 L509.3,344.6 Z" fill="#dedede" stroke="#333" stroke-width="0.7" stroke-linejoin="round" />
<path d="M472.6,263.8 L488.8,263.8 L493.3,266.4 L493.3,317.6 L488,317.6 C486.6,321.8 480.4,321.4 477,323.4 C475.4,324.6 474.8,325.6 474.6,326.8 L474.6,328.6 L456,328.6 L456,326.8 L461.4,326.4 C460.4,325 459.4,324 459.4,322 L459.4,313 C459.6,311 461.4,310.4 463.6,310.2 L472.6,308.8 Z" fill="#fff" stroke="#333" stroke-width="0.7" stroke-linejoin="round"/>
<path d="M481.4,263.8 L481.4,309.6 C481.8,313.6 485,316.4 487.6,317.6" fill="none" stroke="#333" stroke-width="0.7"/>
<path d="M486.2,263.4 L486.2,283.6 L484.8,285.6 L484.8,308 L487.4,312.4 L493.3,312.4" fill="none" stroke="#333" stroke-width="0.7"/>
<path d="M493.3,288.4 L490.8,290.6 L490.8,303.2 L493.3,305.4" fill="none" stroke="#333" stroke-width="0.7"/>
<circle cx="484" cy="277.6" r="0.9" fill="#fff" stroke="#333" stroke-width="0.5"/>
<rect x="471.4" y="278.4" width="1.4" height="6.4" fill="#fff" stroke="#333" stroke-width="0.4"/>
<rect x="471.3" y="302.4" width="1.7" height="6" rx="0.6" fill="#111"/>
<path d="M475.6,263.6 C475.2,260.6 476.2,258.4 477.2,258.4 C478.4,258.4 478.8,260.6 479.2,261.8 L483,261.6 L486.6,263.4" fill="#fff" stroke="#333" stroke-width="0.7"/>
<path d="M476,262.6 L481.6,263" stroke="#111" stroke-width="1.1"/>
<circle cx="477.2" cy="260" r="0.8" fill="#fff" stroke="#333" stroke-width="0.5"/>
<path d="M491.5,328.5 L491.5,356 M493.3,344.6 L493.3,356" fill="none" stroke="#333" stroke-width="0.55" stroke-linejoin="round" />
<path d="M484.1,355 L505.2,355" fill="none" stroke="#333" stroke-width="0.5" stroke-linejoin="round" />
<polygon points="491.4,355 486.2,353.7 486.2,356.3" fill="#222"/>
<polygon points="493.4,355 498.59999999999997,353.7 498.59999999999997,356.3" fill="#222"/>
<text x="241.3" y="352.3" font-family="Liberation Sans, sans-serif" font-size="7.4" fill="#8c8c8c">F</text>
<text x="353.2" y="353.7" font-family="Liberation Sans, sans-serif" font-size="7.4" fill="#8c8c8c">2 x F</text>
<text x="500.4" y="352.5" font-family="Liberation Sans, sans-serif" font-size="7.4" fill="#8c8c8c">F</text>
</svg>
<svg width="600" height="600" viewBox="0 0 600 600">
<path d="M161.4,374.2 L150.6,374.2 L150.6,415 L191.6,415 L191.6,374.2 L180.3,374.2" fill="none" stroke="#f29a6e" stroke-opacity="0.85" stroke-width="0.9"/>
<g fill="#e8733e" fill-opacity="0.62"><polygon points="164.8,372.2 176.9,366.8 176.9,378.8 164.8,383.6"/><polygon points="164.8,385.4 176.9,380.6 176.9,415 164.8,415"/></g>
<g fill="none" stroke="#3a3a3a" stroke-width="4.1" opacity="0.5" stroke-linejoin="miter">
<path d="M208.9,408.0 L208.9,383.5 M229.6,408.0 L229.6,383.5 M208.9,406.5 L229.6,385.0"/>
<path d="M243.9,408.0 L243.9,383.5 M263.1,408.0 L263.1,383.5 M243.9,395.4 L263.1,395.4"/>
<path d="M269.8,385.55 L290,385.55 M279.7,385.55 L279.7,408.0"/>
<path d="M308.6,385.6 L315,385.6 Q319.9,385.6 319.9,390.6 L319.9,408 M319.9,392.3 L302.2,392.3 Q297.2,392.3 297.2,397 L297.2,401.2 Q297.2,405.8 302.2,405.8 L319.9,405.8"/>
<path d="M363.8,408.0 L363.8,383.5 M384.8,408.0 L384.8,383.5 M363.8,406.5 L384.8,385.0"/>
<path d="M395.7,408.0 L395.7,383.5 M395.7,398 L414.6,384.0 M402.6,393.2 L416,408.0"/>
<path d="M434.8,385.6 L441.2,385.6 Q446.09999999999997,385.6 446.09999999999997,390.6 L446.09999999999997,408 M446.09999999999997,392.3 L428.4,392.3 Q423.4,392.3 423.4,397 L423.4,401.2 Q423.4,405.8 428.4,405.8 L446.09999999999997,405.8"/>
<path d="M327.3,408.0 L339.5,383.5 L343.7,383.5 L355.8,408.0 L351.4,408.0 L341.6,388.2 L331.7,408.0 Z" fill="#3a3a3a" stroke="none"/>
</g>
</svg>

</body></html>
